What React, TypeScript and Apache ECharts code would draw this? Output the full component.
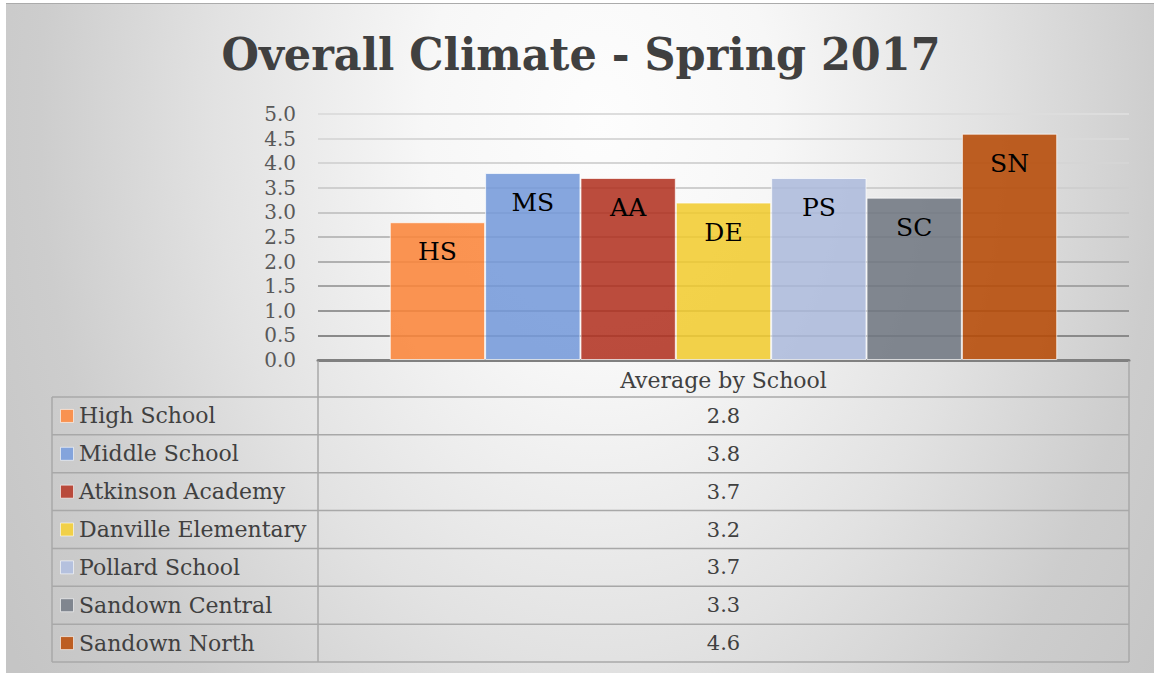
import React, { useEffect, useRef } from "react";
import * as echarts from "echarts";

const titleText = "Overall Climate - Spring 2017";
const schools = [
  "High School",
  "Middle School",
  "Atkinson Academy",
  "Danville Elementary",
  "Pollard School",
  "Sandown Central",
  "Sandown North",
];
const abbreviations = ["HS", "MS", "AA", "DE", "PS", "SC", "SN"];
const averages = [2.8, 3.8, 3.7, 3.2, 3.7, 3.3, 4.6];
const barColors = [
  "rgba(250,133,58,0.88)",
  "rgba(117,154,217,0.88)",
  "rgba(178,51,34,0.88)",
  "rgba(241,204,49,0.88)",
  "rgba(173,187,220,0.88)",
  "rgba(113,120,130,0.88)",
  "rgba(182,74,6,0.88)",
];
const keyColors = ["#f99250", "#84a4dc", "#b94a3b", "#f1d048", "#b5c1de", "#80868f", "#bd5e22"];
const axisCategories = ["Average by School"];
const yMin = 0;
const yMax = 5;
const yInterval = 0.5;

const FONT = "'DejaVu Serif', serif";

export default function App() {
  const ref = useRef<HTMLDivElement>(null);

  useEffect(() => {
    if (!ref.current) return;
    const chart = echarts.init(ref.current, undefined, { renderer: "svg" });

    const W = 1154;
    const H = 673;
    const plotLeft = 318;
    const plotRight = 1129;
    const plotTop = 114;
    const plotBottom = 360;
    const tableTop = 361;
    const headerBottom = 397;
    const rowH = 37.86;
    const tableLeft = 52;
    const tableRight = plotRight;
    const tableBottom = headerBottom + rowH * schools.length;
    const lineColor = "#a8a8a8";

    const sy = 1.4;
    const graphics: any[] = [
      {
        type: "rect",
        z: -10,
        silent: true,
        scaleY: sy,
        shape: { x: 6, y: 3 / sy, width: W - 6, height: (H - 3) / sy },
        style: {
          fill: {
            type: "radial",
            x: 600,
            y: 120 / sy,
            r: 700,
            global: true,
            colorStops: [
              { offset: 0, color: "#fdfdfd" },
              { offset: 0.25, color: "#f7f7f7" },
              { offset: 0.55, color: "#e2e2e2" },
              { offset: 0.8, color: "#cdcdcd" },
              { offset: 1, color: "#c5c5c5" },
            ],
          },
        },
      },
      {
        type: "line",
        z: -9,
        silent: true,
        shape: { x1: 6, y1: 3.5, x2: W, y2: 3.5 },
        style: { stroke: "#ababab", lineWidth: 1 },
      },
      {
        type: "text",
        z: 10,
        x: 581,
        y: 54,
        scaleY: 1.05,
        style: {
          text: titleText,
          font: `bold 43px ${FONT}`,
          fill: "#404040",
          textAlign: "center",
          textVerticalAlign: "middle",
        },
      },
    ];

    const tableLine = (x1: number, y1: number, x2: number, y2: number) => ({
      type: "line",
      z: 5,
      silent: true,
      shape: { x1, y1, x2, y2 },
      style: { stroke: lineColor, lineWidth: 1.5 },
    });
    graphics.push(tableLine(plotLeft, tableTop, plotLeft, tableBottom));
    graphics.push(tableLine(tableRight, tableTop, tableRight, tableBottom));
    graphics.push(tableLine(tableLeft, headerBottom, tableLeft, tableBottom));
    graphics.push(tableLine(tableLeft, headerBottom, tableRight, headerBottom));
    schools.forEach((_, i) => {
      const yb = headerBottom + rowH * (i + 1);
      graphics.push(tableLine(tableLeft, yb, tableRight, yb));
    });
    graphics.push({
      type: "text",
      z: 6,
      x: (plotLeft + tableRight) / 2,
      y: (tableTop + headerBottom) / 2 + 1,
      style: {
        text: axisCategories[0],
        font: `22px ${FONT}`,
        fill: "#404040",
        textAlign: "center",
        textVerticalAlign: "middle",
      },
    });
    schools.forEach((name, i) => {
      const cy = headerBottom + rowH * i + rowH / 2;
      graphics.push({
        type: "rect",
        z: 6,
        silent: true,
        shape: { x: 60.5, y: cy - 6.5, width: 13, height: 13 },
        style: { fill: keyColors[i], stroke: "rgba(255,255,255,0.6)", lineWidth: 1 },
      });
      graphics.push({
        type: "text",
        z: 6,
        x: 79,
        y: cy,
        style: {
          text: name,
          font: `22px ${FONT}`,
          fill: "#404040",
          textAlign: "left",
          textVerticalAlign: "middle",
        },
      });
      graphics.push({
        type: "text",
        z: 6,
        x: (plotLeft + tableRight) / 2,
        y: cy,
        style: {
          text: averages[i].toFixed(1),
          font: `21px ${FONT}`,
          fill: "#404040",
          textAlign: "center",
          textVerticalAlign: "middle",
        },
      });
    });

    const splitColors = [
      "#7f7f7f",
      "#8a8a8a",
      "#979797",
      "#a4a4a4",
      "#b0b0b0",
      "#bcbcbc",
      "#c7c7c7",
      "#cfcfcf",
      "#d5d5d5",
      "#d9d9d9",
      "#dddddd",
    ];

    chart.setOption({
      animation: false,
      backgroundColor: "#ffffff",
      grid: {
        left: plotLeft,
        right: W - plotRight,
        top: plotTop,
        bottom: H - plotBottom,
        containLabel: false,
      },
      xAxis: {
        type: "category",
        data: axisCategories,
        axisLine: { show: true, lineStyle: { color: "#808080", width: 3 } },
        axisTick: { show: false },
        axisLabel: { show: false },
        splitLine: { show: false },
      },
      yAxis: {
        type: "value",
        min: yMin,
        max: yMax,
        interval: yInterval,
        axisLine: { show: false },
        axisTick: { show: false },
        axisLabel: {
          formatter: (v: number) => v.toFixed(1),
          fontFamily: FONT,
          fontSize: 20,
          color: "#595959",
          margin: 22,
        },
        splitLine: { show: true, lineStyle: { color: splitColors, width: 2 } },
      },
      series: schools.map((name, i) => ({
        type: "bar",
        name,
        data: [averages[i]],
        barGap: "0%",
        barCategoryGap: "17.7%",
        itemStyle: { color: barColors[i], borderColor: "rgba(255,255,255,0.7)", borderWidth: 1 },
        label: {
          show: true,
          position: "insideTop",
          distance: 17,
          formatter: abbreviations[i],
          fontFamily: FONT,
          fontSize: 25,
          color: "#000000",
        },
      })),
      graphic: graphics,
    });

    return () => chart.dispose();
  }, []);

  return (
    <div
      ref={ref}
      style={{ position: "fixed", left: 0, top: 0, width: 1154, height: 673 }}
    />
  );
}
